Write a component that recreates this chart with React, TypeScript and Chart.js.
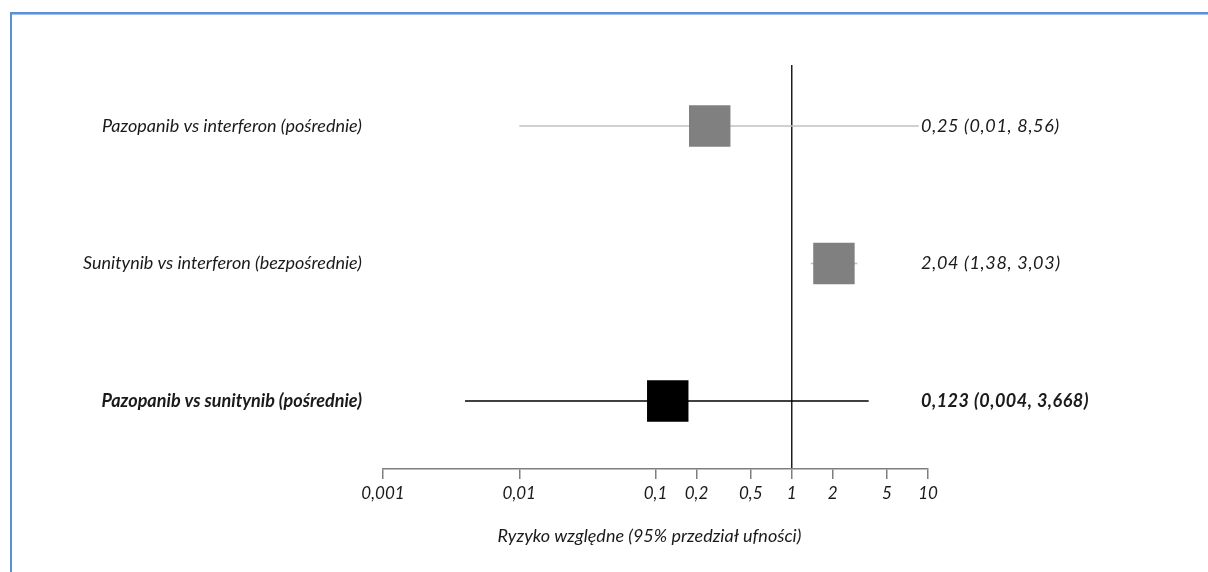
import React, { useEffect, useRef } from 'react';
import { Chart, registerables } from 'chart.js';

Chart.register(...registerables);

const rowLabels = [
  'Pazopanib vs interferon (pośrednie)',
  'Sunitynib vs interferon (bezpośrednie)',
  'Pazopanib vs sunitynib (pośrednie)',
];
const rowValueTexts = ['0,25 (0,01, 8,56)', '2,04 (1,38, 3,03)', '0,123 (0,004, 3,668)'];
const estimates = [0.25, 2.04, 0.123];
const lowerCI = [0.01, 1.38, 0.004];
const upperCI = [8.56, 3.03, 3.668];
const rowPositions = [3, 2, 1];
const rowBold = [false, false, true];
const squareColors = ['#808080', '#808080', '#000000'];
const lineColors = ['#c0c0c0', '#c0c0c0', '#000000'];
const tickValues = [0.001, 0.01, 0.1, 0.2, 0.5, 1, 2, 5, 10];
const tickLabels = ['0,001', '0,01', '0,1', '0,2', '0,5', '1', '2', '5', '10'];
const axisTitle = 'Ryzyko względne (95% przedział ufności)';

const FONT = 'Lato, "Open Sans", sans-serif';

export default function App() {
  const canvasRef = useRef<HTMLCanvasElement | null>(null);

  useEffect(() => {
    const canvas = canvasRef.current;
    if (!canvas) return;

    const labelPlugin = {
      id: 'rowLabels',
      afterDraw(chart: any) {
        const { ctx, chartArea, scales } = chart;
        const yScale = scales.y;
        ctx.save();
        ctx.fillStyle = '#1a1a1a';
        ctx.textBaseline = 'middle';
        rowLabels.forEach((label, i) => {
          const y = yScale.getPixelForValue(rowPositions[i]);
          ctx.font = `${rowBold[i] ? 'bold ' : ''}italic 18px ${FONT}`;
          ctx.letterSpacing = '0px';
          ctx.textAlign = 'right';
          ctx.fillText(label, chartArea.left - 21, y);
          ctx.letterSpacing = rowBold[i] ? '0.5px' : '0.7px';
          ctx.textAlign = 'left';
          ctx.fillText(rowValueTexts[i], chartArea.right - 7, y);
        });
        // axis title
        ctx.letterSpacing = '0px';
        ctx.font = `italic 18px ${FONT}`;
        ctx.textAlign = 'center';
        ctx.fillText(axisTitle, (chartArea.left + chartArea.right) / 2 - 6, chartArea.bottom + 67);
        ctx.restore();
      },
    };

    const ciDatasets = rowLabels.map((_, i) => ({
      type: 'scatter' as const,
      label: rowLabels[i],
      data: [
        { x: lowerCI[i], y: rowPositions[i] },
        { x: upperCI[i], y: rowPositions[i] },
      ],
      showLine: true,
      borderColor: lineColors[i],
      borderWidth: 1.5,
      pointRadius: 0,
      order: 2,
    }));

    const chart = new Chart(canvas, {
      type: 'scatter',
      data: {
        datasets: [
          {
            label: 'estimates',
            data: estimates.map((v, i) => ({ x: v, y: rowPositions[i] })),
            pointStyle: 'rect',
            pointRadius: 29.3,
            pointHoverRadius: 29.3,
            backgroundColor: squareColors,
            borderColor: squareColors,
            borderWidth: 0,
            order: 1,
          },
          ...ciDatasets,
        ],
      },
      options: {
        animation: false,
        responsive: false,
        devicePixelRatio: 1,
        layout: { padding: { left: 383, right: 280, top: 65, bottom: 0 } },
        plugins: {
          legend: { display: false },
          tooltip: { enabled: false },
          title: { display: false },
        },
        scales: {
          x: {
            type: 'logarithmic',
            min: 0.001,
            max: 10,
            afterBuildTicks: (scale: any) => {
              scale.ticks = tickValues.map((v) => ({ value: v }));
            },
            afterFit: (scale: any) => {
              scale.height = 103;
            },
            grid: {
              drawOnChartArea: true,
              color: (ctx: any) => (ctx.tick && ctx.tick.value === 1 ? '#1e1e1e' : 'rgba(0,0,0,0)'),
              lineWidth: 1.5,
              tickColor: '#7f7f7f',
              tickLength: 10,
              tickWidth: 1.5,
            },
            border: { display: true, color: '#7f7f7f', width: 1.5 },
            ticks: {
              autoSkip: false,
              maxRotation: 0,
              minRotation: 0,
              padding: 4,
              color: '#1a1a1a',
              font: { family: FONT, size: 17, style: 'italic' },
              callback: (value: any) => {
                const idx = tickValues.findIndex((t) => Math.abs(t - Number(value)) < 1e-9);
                return idx >= 0 ? tickLabels[idx] : '';
              },
            },
            title: { display: false },
          },
          y: {
            type: 'linear',
            display: false,
            min: 0.5055,
            max: 3.4436,
          },
        },
      },
      plugins: [labelPlugin],
    } as any);

    return () => {
      chart.destroy();
    };
  }, []);

  return (
    <div style={{ position: 'absolute', left: 0, top: 0, width: 1208, height: 572, background: '#ffffff', overflow: 'hidden' }}>
      <canvas ref={canvasRef} width={1208} height={572} style={{ display: 'block', position: 'absolute', left: 0, top: 0 }} />
      <div
        style={{
          position: 'absolute',
          left: 10,
          top: 12,
          width: 1300,
          height: 700,
          borderTop: '2px solid #5b8fd7',
          borderLeft: '2px solid #5b8fd7',
          boxSizing: 'border-box',
          pointerEvents: 'none',
        }}
      >
        <div style={{ position: 'absolute', left: 0, top: 0, right: 0, height: 1, background: '#a6c3ec' }} />
      </div>
    </div>
  );
}
